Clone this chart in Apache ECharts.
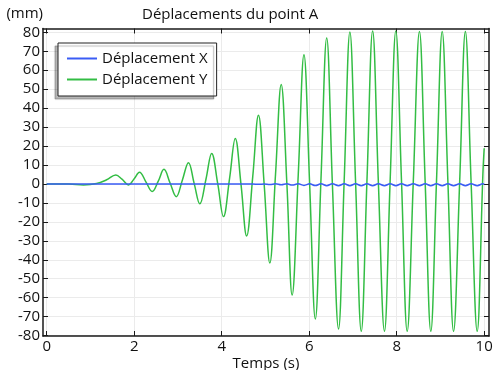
<!DOCTYPE html>
<html>
<head>
<meta charset="utf-8">
<script src="https://cdn.jsdelivr.net/npm/echarts@6/dist/echarts.min.js"></script>
<style>
  html, body { margin: 0; padding: 0; background: #fff; }
  #chart { width: 494px; height: 370px; }
</style>
</head>
<body>
<div id="chart"></div>
<script>
// Déplacement Y : extrema and crossings
const timeY = [0, 0.5, 0.84, 1.14, 1.37, 1.58, 1.72, 1.87, 2.0, 2.12, 2.27, 2.41, 2.55, 2.68,
  2.82, 2.96, 3.10, 3.24, 3.37, 3.50, 3.64, 3.77, 3.91, 4.04, 4.18, 4.31, 4.44, 4.57,
  4.71, 4.84, 4.97, 5.10, 5.23, 5.36, 5.49, 5.61, 5.75, 5.88, 6.01, 6.14, 6.27, 6.40,
  6.53, 6.67, 6.80, 6.93, 7.06, 7.19, 7.32, 7.45, 7.58, 7.72, 7.85, 7.98, 8.11, 8.24,
  8.38, 8.52, 8.65, 8.78, 8.91, 9.04, 9.17, 9.30, 9.44, 9.57, 9.70, 9.84, 9.97, 10.0];
const dispY = [0, 0, -0.5, 0.2, 2.2, 4.7, 2.5, -0.5, 2.8, 6.2, 1, -4, 1.5, 7.7,
  0.5, -6.7, 2, 11.2, 0.3, -10.5, 2.5, 16.1, 0, -17.2, 3, 24.0, 0, -27.4,
  4, 36.3, 0, -41.7, 5, 52.5, 0, -58.6, 5, 68.2, 0, -71.2, 3, 77.0,
  0, -76.5, 2, 80.2, 1, -77.7, 1.5, 80.7, 1.5, -77.7, 1.5, 80.7, 1.5, -77.7,
  1.5, 80.4, 1.5, -77.7, 1.5, 80.4, 1.5, -77.7, 1.5, 80.4, 1.5, -77.7, 5, 18.8];

// Déplacement X : small ripple near zero
const timeX = [0, 4.5, 4.71, 4.84, 4.97, 5.10, 5.23, 5.36, 5.49, 5.61, 5.75, 5.88, 6.01,
  6.14, 6.27, 6.40, 6.53, 6.67, 6.80, 6.93, 7.06, 7.19, 7.32, 7.45, 7.58, 7.72, 7.85,
  7.98, 8.11, 8.24, 8.38, 8.52, 8.65, 8.78, 8.91, 9.04, 9.17, 9.30, 9.44, 9.57, 9.70,
  9.84, 9.97, 10.0];
const dispX = [0, 0, 0, -0.2, 0, -0.3, 0.05, -0.45, 0.05, -0.6, 0.05, -0.75, 0.05,
  -0.85, 0.05, -0.9, 0.05, -0.9, 0.05, -0.9, 0.05, -0.9, 0.05, -0.9, 0.05, -0.9, 0.05,
  -0.9, 0.05, -0.9, 0.05, -0.9, 0.05, -0.9, 0.05, -0.9, 0.05, -0.9, 0.05, -0.9, 0.05,
  -0.9, 0.05, -0.3];

const xTicks = [0, 2, 4, 6, 8, 10];
const yTicks = [-80, -70, -60, -50, -40, -30, -20, -10, 0, 10, 20, 30, 40, 50, 60, 70, 80];

const chart = echarts.init(document.getElementById("chart"));
const font = "Open Sans";
const frame = { show: true, onZero: false, lineStyle: { color: "#1a1a1a", width: 1.5 } };
const grid = { show: true, lineStyle: { color: "#ebebeb", width: 1 } };

const option = {
  animation: false,
  title: {
    text: "Déplacements du point A",
    left: 142,
    top: 7,
    padding: 0,
    textStyle: { fontFamily: font, fontSize: 15, fontWeight: "normal", color: "#111" },
  },
  legend: {
    orient: "vertical",
    left: 58,
    top: 43,
    padding: [8, 9, 9, 8],
    itemGap: 6,
    itemWidth: 30,
    itemHeight: 14,
    backgroundColor: "#fff",
    borderColor: "#222",
    borderWidth: 1,
    shadowColor: "rgba(0,0,0,0.28)",
    shadowBlur: 1,
    shadowOffsetX: -3,
    shadowOffsetY: 3,
    itemStyle: { opacity: 0 },
    textStyle: { fontFamily: font, fontSize: 15, color: "#111" },
    data: ["Déplacement X", "Déplacement Y"],
  },
  grid: { left: 43, right: 5, top: 28.5, bottom: 34, outerBoundsMode: "none" },
  xAxis: [
    {
      type: "value",
      min: -0.085,
      max: 10.11,
      name: "Temps (s)",
      nameLocation: "middle",
      nameGap: 20,
      nameMoveOverlap: false,
      nameTextStyle: { fontFamily: font, fontSize: 15, color: "#111" },
      axisLine: frame,
      axisTick: { inside: true, length: 5, customValues: xTicks, lineStyle: { color: "#1a1a1a" } },
      axisLabel: { customValues: xTicks, margin: 3, fontFamily: font, fontSize: 15, color: "#111" },
      splitLine: Object.assign({ customValues: xTicks }, grid),
    },
    {
      type: "value",
      position: "top",
      min: -0.085,
      max: 10.11,
      axisLine: frame,
      axisTick: { inside: true, length: 5, customValues: xTicks, lineStyle: { color: "#1a1a1a" } },
      axisLabel: { show: false },
      splitLine: { show: false },
    },
  ],
  yAxis: [
    {
      type: "value",
      min: -80.2,
      max: 82,
      name: "(mm)",
      nameLocation: "end",
      nameGap: 7,
      nameTextStyle: { fontFamily: font, fontSize: 15, color: "#111", align: "right" },
      axisLine: frame,
      axisTick: { inside: true, length: 5, customValues: yTicks, lineStyle: { color: "#1a1a1a" } },
      axisLabel: { customValues: yTicks, margin: 3, fontFamily: font, fontSize: 15, color: "#111" },
      splitLine: Object.assign({ customValues: yTicks }, grid),
    },
    {
      type: "value",
      position: "right",
      min: -80.2,
      max: 82,
      axisLine: frame,
      axisTick: { inside: true, length: 5, customValues: yTicks, lineStyle: { color: "#1a1a1a" } },
      axisLabel: { show: false },
      splitLine: { show: false },
    },
  ],
  series: [
    {
      name: "Déplacement X",
      type: "line",
      symbol: "none",
      smooth: 0.4,
      lineStyle: { color: "#3a5cf5", width: 1.5 },
      itemStyle: { color: "#3a5cf5" },
      data: timeX.map((t, i) => [t, dispX[i]]),
      z: 3,
    },
    {
      name: "Déplacement Y",
      type: "line",
      symbol: "none",
      smooth: 0.4,
      lineStyle: { color: "#33bd44", width: 1.5 },
      itemStyle: { color: "#33bd44" },
      data: timeY.map((t, i) => [t, dispY[i]]),
      z: 2,
    },
  ],
};

chart.setOption(option);
</script>
</body>
</html>
